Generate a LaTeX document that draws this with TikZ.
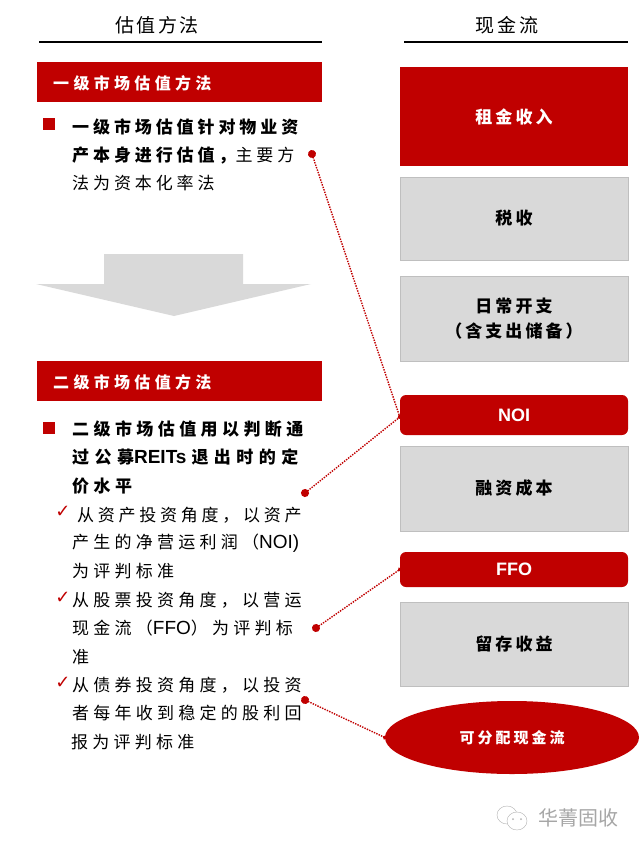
\documentclass[tikz,border=0pt]{standalone}
\usepackage{fontspec}
\setmainfont{Noto Sans CJK SC}
\newfontfamily\latfont{Liberation Sans}
\newfontfamily\checkfont{DejaVu Sans}
\usetikzlibrary{arrows.meta,shapes.geometric}
\definecolor{hjred}{HTML}{C00000}
\definecolor{hjgray}{HTML}{D9D9D9}
\newcommand{\lat}[1]{{\latfont\fontsize{19}{19}\selectfont #1}}
\newcommand{\ls}[1]{\addfontfeature{LetterSpace=#1}}
\begin{document}
\begin{tikzpicture}[
  x=1pt, y=-1pt,
  coltitle/.style={font=\fontsize{19}{19}\selectfont\ls{14}, inner sep=0pt},
  headbar/.style={rectangle, fill=hjred, minimum width=285pt, minimum height=40pt, inner sep=0pt},
  headtext/.style={text=white, font=\fontsize{16}{16}\bfseries\selectfont\ls{27}, anchor=west, inner sep=0pt},
  bodyline/.style={anchor=west, inner sep=0pt, font=\fontsize{17}{17}\selectfont\ls{25}},
  boldline/.style={bodyline, font=\fontsize{17}{17}\bfseries\selectfont\ls{26}},
  bullet/.style={rectangle, fill=hjred, minimum size=12pt, inner sep=0pt},
  tick/.style={text=hjred, inner sep=0pt, font=\fontsize{18}{18}\checkfont},
  redbox/.style={rectangle, fill=hjred, text=white, minimum width=228pt, inner sep=0pt, font=\fontsize{17}{17}\bfseries\selectfont\ls{18}},
  graybox/.style={rectangle, fill=hjgray, draw=black!25, line width=0.5pt, minimum width=227.5pt, inner sep=0pt, align=center, font=\fontsize{17}{24}\bfseries\selectfont\ls{18}},
  pill/.style={rectangle, rounded corners=6pt, fill=hjred, text=white, minimum width=228pt, inner sep=0pt, font=\fontsize{18}{18}\latfont\bfseries},
  link/.style={hjred, line width=1.4pt, dash pattern=on 1.4pt off 1.2pt, shorten <=-4pt, shorten >=-2pt, {Circle[length=8pt,width=8pt]}-{Circle[length=4pt,width=4pt]}},
  wmark/.style={text=black!35, inner sep=0pt}
]
  \useasboundingbox (0,0) rectangle (640,851);

  % column titles
  \node[coltitle] (lefttitle) at (157,25) {估值方法};
  \node[coltitle] (righttitle) at (507,25) {现金流};
  \draw[line width=1.5pt] (39,42) -- (322,42);
  \draw[line width=1.5pt] (404,42) -- (628,42);

  % first block
  \node[headbar] (head1) at (179.5,82) {};
  \node[headtext] (head1t) at (53,83) {一级市场估值方法};
  \node[bullet] (b1) at (49,124) {};
  \node[boldline] (l11) at (72,127) {\ls{23}一级市场估值针对物业资};
  \node[bodyline] (l12) at (72,155) {\ls{23}{\bfseries 产本身进行估值，}主要方};
  \node[bodyline] (l13) at (72,183) {\ls{23}法为资本化率法};

  % down arrow
  \fill[hjgray] (104,254) -- (243,254) -- (243,284) -- (311,284) -- (174,316) -- (36,284) -- (104,284) -- cycle;

  % second block
  \node[headbar] (head2) at (179.5,381) {};
  \node[headtext] (head2t) at (53,382) {二级市场估值方法};
  \node[bullet] (b2) at (49,428) {};
  \node[boldline] (l21) at (72,429) {二级市场估值用以判断通};
  \node[boldline] (l22) at (72,457) {\ls{32}过公募\lat{REITs}\hspace{5pt}退出时的定};
  \node[boldline] (l23) at (72,486) {价水平};

  \node[tick] (t1) at (63,512) {✓};
  \node[bodyline] (l31) at (77,515) {\ls{22}从资产投资角度，以资产};
  \node[bodyline] (l32) at (72,543) {产生的净营运利润（\lat{NOI)}};
  \node[bodyline] (l33) at (72,571) {为评判标准};

  \node[tick] (t2) at (63,598) {✓};
  \node[bodyline] (l41) at (72,600) {从股票投资角度，以营运};
  \node[bodyline] (l42) at (72,628) {现金流（\lat{FFO}）为评判标};
  \node[bodyline] (l43) at (72,657) {准};

  \node[tick] (t3) at (63,683) {✓};
  \node[bodyline] (l51) at (72,685) {从债券投资角度，以投资};
  \node[bodyline] (l52) at (72,713) {者每年收到稳定的股利回};
  \node[bodyline] (l53) at (71,742) {报为评判标准};

  % cash flow column
  \node[redbox, minimum height=99pt] (rent) at (514,116.5) {租金收入};
  \node[graybox, minimum height=83pt] (tax) at (514,218.5) {税收};
  \node[graybox, minimum height=85pt] (opex) at (514,318.5) {\raisebox{-1pt}{日常开支}\\[1pt]\raisebox{-1pt}{（含支出储备）}};
  \node[pill, minimum height=40pt] (noi) at (514,415) {NOI};
  \node[graybox, minimum height=85pt] (fin) at (514,488.5) {融资成本};
  \node[pill, minimum height=35pt] (ffo) at (514,569.5) {FFO};
  \node[graybox, minimum height=84pt] (keep) at (514,644) {留存收益};
  \node[ellipse, fill=hjred, text=white, minimum width=254pt, minimum height=73pt, inner sep=0pt,
        font=\fontsize{15}{15}\bfseries\selectfont\ls{20}] (afd) at (512,737.5) {可分配现金流};

  % links
  \coordinate (d1) at (312,154);
  \coordinate (d2) at (305,493);
  \coordinate (d3) at (316,628);
  \coordinate (d4) at (305,700);
  \draw[link] (d1) -- ([yshift=-2pt]noi.west);
  \draw[link] (d2) -- ([yshift=-2pt]noi.west);
  \draw[link] (d3) -- (ffo.west);
  \draw[link] (d4) -- (afd.west);

  % watermarks
  \node[wmark, font=\fontsize{20}{20}\selectfont] (brand) at (578,818) {华菁固收};
  \draw[black!30, fill=white] (507,815) ellipse (10pt and 9pt);
  \draw[black!30, fill=white] (517,821) ellipse (10pt and 9pt);
  \fill[black!30] (513,819) circle (1pt) (521,819) circle (1pt);
\end{tikzpicture}
\end{document}
